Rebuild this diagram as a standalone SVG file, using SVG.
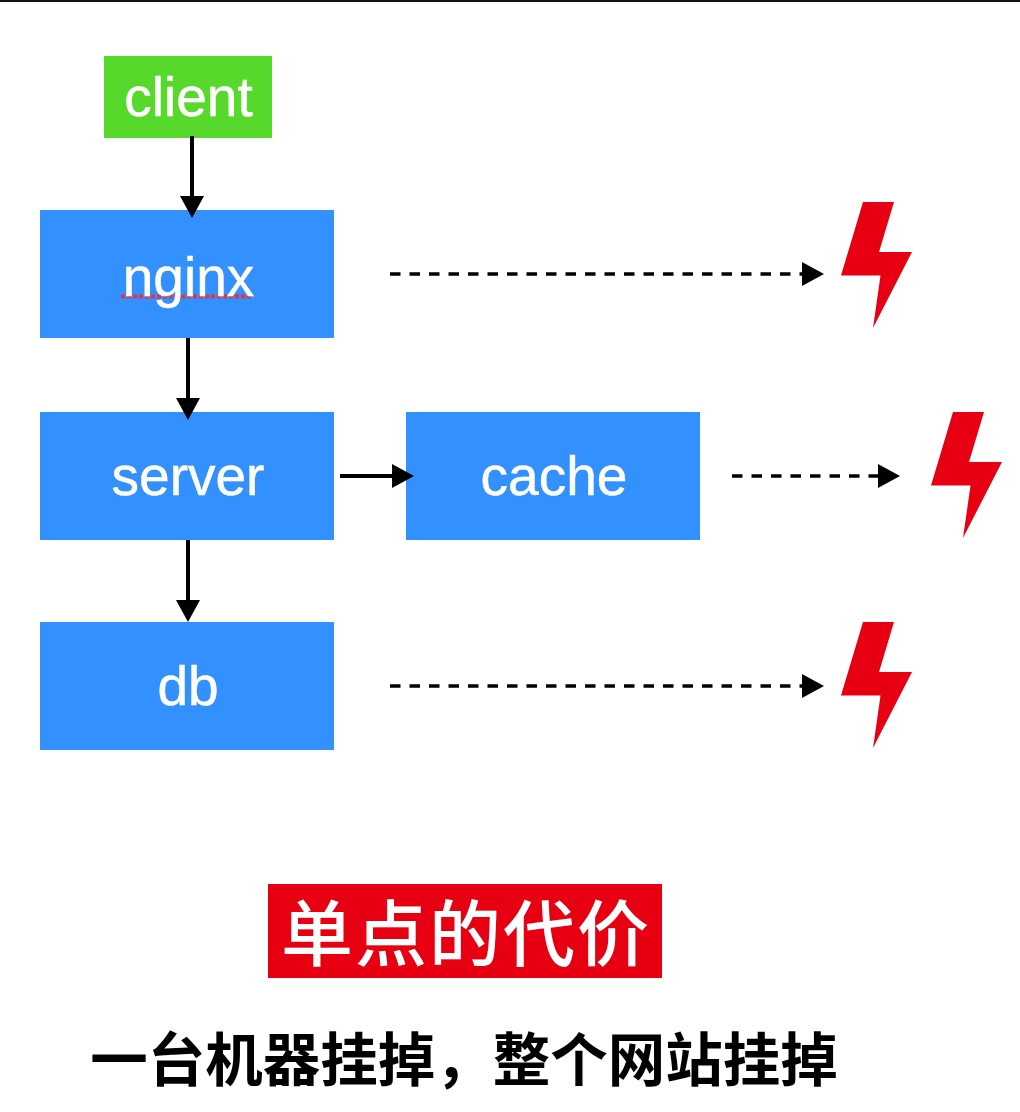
<svg xmlns="http://www.w3.org/2000/svg" width="1020" height="1112" viewBox="0 0 1020 1112">
<style>
.lbl{font-family:"Liberation Sans",Arial,sans-serif;font-size:55px;fill:#fff;stroke:#fff;stroke-width:.5;text-anchor:middle}
.blue{fill:#3290ff}
.solid{fill:none;stroke:#000;stroke-width:4;marker-end:url(#ah)}
.dash{fill:none;stroke:#000;stroke-width:3.5;stroke-dasharray:10.5 9;marker-end:url(#ah)}
.bolt{fill:#e60012}
.cjk{font-family:"Liberation Sans","Noto Sans CJK SC",sans-serif}
</style>
<defs>
<marker id="ah" markerUnits="userSpaceOnUse" markerWidth="24" markerHeight="24" refX="10" refY="12" orient="auto"><path d="M0 0L22 12L0 24Z" fill="#000"/></marker>
<polygon id="b" points="863,202 894,202 879,252 912,252 873,328 880.5,275.5 841,275.5"/>
</defs>
<rect width="1020" height="1112" fill="#fff"/>
<rect width="1020" height="2" fill="#111"/>
<g id="client"><rect x="104" y="56" width="168" height="82" fill="#57d92c"/><text class="lbl" x="188.500" y="116">client</text></g>
<g id="nginx"><rect class="blue" x="40" y="210" width="294" height="128"/><line x1="121" y1="296.500" x2="253" y2="296.500" stroke="#e8323c" stroke-width="4" stroke-dasharray="4 2"/><text class="lbl" x="188.500" y="296">nginx</text></g>
<g id="server"><rect class="blue" x="40" y="412" width="294" height="128"/><text class="lbl" x="188" y="495">server</text></g>
<g id="cache"><rect class="blue" x="406" y="412" width="294" height="128"/><text class="lbl" x="554" y="495">cache</text></g>
<g id="db"><rect class="blue" x="40" y="622" width="294" height="128"/><text class="lbl" x="188" y="705">db</text></g>
<g id="connectors">
<path class="solid" d="M192 136V206"/>
<path class="solid" d="M188 338V408"/>
<path class="solid" d="M188 540V610"/>
<path class="solid" d="M340 476H402"/>
<path class="dash" d="M390 274H812"/>
<path class="dash" d="M732 476H888"/>
<path class="dash" d="M390 686H812"/>
</g>
<g id="bolt1" class="bolt"><use href="#b"/></g>
<g id="bolt2" class="bolt"><use href="#b" x="90" y="210"/></g>
<g id="bolt3" class="bolt"><use href="#b" y="420"/></g>
<g id="title"><rect x="268" y="884" width="394" height="94" fill="#e60012"/><text class="cjk" x="466" y="960" font-size="72" letter-spacing="2" font-weight="500" fill="#fff" text-anchor="middle">单点的代价</text></g>
<g id="caption"><text class="cjk" x="464" y="1081" font-size="57.500" font-weight="700" fill="#000" text-anchor="middle">一台机器挂掉&#xFF0C;整个网站挂掉</text></g>
</svg>
